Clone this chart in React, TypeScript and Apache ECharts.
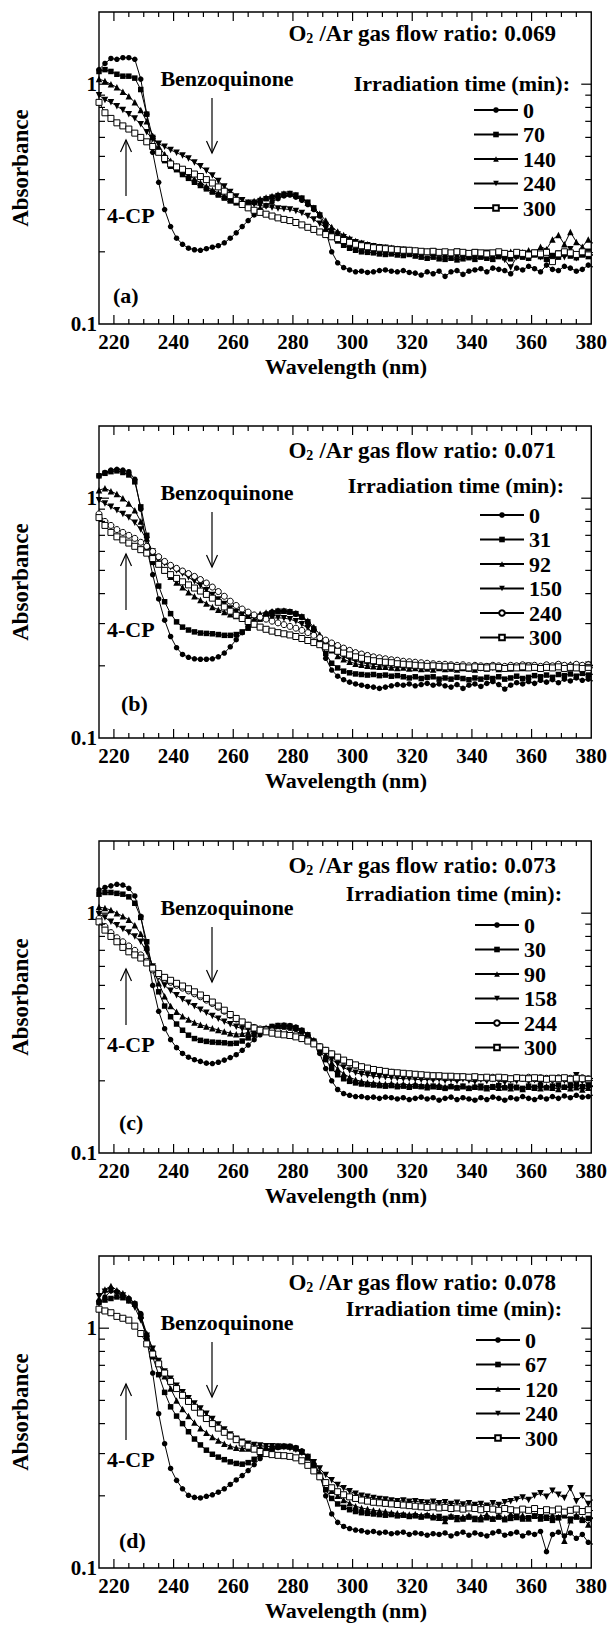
import React, { useEffect, useRef } from "react";
import * as echarts from "echarts";

// ---------- data ----------
const WAVELENGTH = [215,217,219,221,223,225,227,229,231,233,235,237,239,241,243,245,247,249,251,253,255,257,259,261,263,265,267,269,271,273,275,277,279,281,283,285,287,289,291,293,295,297,299,301,303,305,307,309,311,313,315,317,319,321,323,325,327,329,331,333,335,337,339,341,343,345,347,349,351,353,355,357,359,361,363,365,367,369,371,373,375,377,379,381];

const X_TICKS = [220,225,230,235,240,245,250,255,260,265,270,275,280,285,290,295,300,305,310,315,320,325,330,335,340,345,350,355,360,365,370,375];
const X_MAJOR = [220,240,260,280,300,320,340,360,380];
const Y_TICKS = [0.2,0.3,0.4,0.5,0.6,0.7,0.8,0.9,1];
const Y_MAJOR = [1];
const Y_LABELS = ["0.1", "1"];

const PANEL_KEYS = ["a", "b", "c", "d"];
const RATIOS = ["0.069", "0.071", "0.073", "0.078"];
const TIMES_A = ["0", "70", "140", "240", "300"];
const TIMES_B = ["0", "31", "92", "150", "240", "300"];
const TIMES_C = ["0", "30", "90", "158", "244", "300"];
const TIMES_D = ["0", "67", "120", "240", "300"];

// panel (a), O2/Ar 0.069
const A_0 = [1.15,1.22,1.28,1.27,1.29,1.29,1.27,1.05,0.75,0.52,0.39,0.3,0.255,0.228,0.215,0.207,0.204,0.203,0.206,0.209,0.212,0.218,0.228,0.24,0.255,0.27,0.285,0.3,0.312,0.323,0.333,0.342,0.345,0.338,0.328,0.315,0.3,0.282,0.245,0.2,0.18,0.172,0.168,0.165,
  0.166,0.164,0.165,0.167,0.168,0.166,0.165,0.167,0.164,0.163,0.16,0.165,0.162,0.166,0.158,0.165,0.167,0.161,0.166,0.168,0.17,0.165,0.171,0.169,0.167,0.162,0.171,0.168,0.174,0.17,0.165,0.176,0.169,0.167,0.174,0.171,0.166,0.169,0.176,0.172];
const A_70 = [1.13,1.15,1.13,1.1,1.08,1.08,1.06,0.95,0.75,0.6,0.52,0.48,0.455,0.44,0.42,0.405,0.39,0.378,0.366,0.355,0.345,0.335,0.326,0.32,0.317,0.318,0.322,0.327,0.333,0.338,0.343,0.348,0.35,0.345,0.335,0.322,0.305,0.285,0.26,0.238,0.222,0.213,0.207,0.203,
  0.2,0.199,0.198,0.196,0.195,0.196,0.194,0.193,0.195,0.192,0.19,0.188,0.19,0.187,0.186,0.188,0.185,0.187,0.189,0.186,0.19,0.188,0.186,0.191,0.189,0.187,0.192,0.19,0.188,0.194,0.191,0.186,0.193,0.19,0.196,0.192,0.189,0.194,0.191,0.195];
const A_140 = [1.05,1.03,1.0,0.97,0.93,0.89,0.84,0.78,0.7,0.61,0.55,0.51,0.48,0.455,0.435,0.418,0.402,0.388,0.375,0.362,0.352,0.342,0.333,0.326,0.322,0.322,0.326,0.332,0.337,0.342,0.347,0.35,0.35,0.345,0.335,0.32,0.305,0.288,0.27,0.254,0.243,0.235,0.228,0.222,
  0.218,0.215,0.212,0.21,0.209,0.208,0.206,0.205,0.204,0.203,0.2,0.201,0.198,0.199,0.196,0.198,0.195,0.197,0.194,0.196,0.193,0.197,0.194,0.198,0.195,0.2,0.196,0.199,0.203,0.198,0.21,0.205,0.225,0.235,0.215,0.242,0.22,0.21,0.225,0.215];
const A_240 = [0.9,0.86,0.84,0.81,0.78,0.75,0.72,0.68,0.63,0.59,0.565,0.548,0.532,0.518,0.504,0.49,0.472,0.455,0.436,0.416,0.395,0.374,0.355,0.34,0.328,0.32,0.315,0.312,0.309,0.306,0.303,0.302,0.3,0.296,0.29,0.282,0.273,0.262,0.252,0.243,0.236,0.23,0.224,0.219,
  0.216,0.213,0.211,0.209,0.208,0.206,0.205,0.204,0.203,0.201,0.2,0.199,0.201,0.197,0.199,0.196,0.2,0.197,0.195,0.199,0.194,0.198,0.192,0.196,0.185,0.172,0.19,0.196,0.188,0.198,0.19,0.2,0.185,0.197,0.19,0.205,0.188,0.196,0.2,0.192];
const A_300 = [0.84,0.76,0.72,0.69,0.67,0.65,0.625,0.6,0.575,0.55,0.52,0.49,0.465,0.452,0.442,0.432,0.422,0.412,0.4,0.387,0.373,0.358,0.343,0.328,0.315,0.305,0.298,0.292,0.287,0.282,0.277,0.273,0.27,0.265,0.259,0.253,0.248,0.242,0.236,0.231,0.227,0.223,0.219,0.215,
  0.212,0.21,0.208,0.207,0.206,0.205,0.204,0.203,0.203,0.202,0.201,0.2,0.201,0.199,0.2,0.198,0.2,0.199,0.197,0.199,0.198,0.196,0.198,0.2,0.197,0.195,0.199,0.197,0.194,0.198,0.196,0.199,0.182,0.196,0.2,0.198,0.195,0.2,0.197,0.199];

// panel (b), O2/Ar 0.071
const B_0 = [1.24,1.28,1.31,1.32,1.31,1.29,1.2,0.9,0.62,0.48,0.38,0.31,0.265,0.238,0.223,0.217,0.214,0.213,0.213,0.214,0.218,0.226,0.24,0.257,0.275,0.292,0.307,0.32,0.33,0.336,0.338,0.338,0.335,0.328,0.318,0.303,0.283,0.25,0.215,0.192,0.181,0.175,0.171,0.168,
  0.166,0.164,0.163,0.161,0.163,0.165,0.167,0.166,0.168,0.165,0.167,0.169,0.166,0.168,0.165,0.163,0.167,0.161,0.166,0.168,0.164,0.169,0.172,0.167,0.16,0.166,0.17,0.168,0.172,0.169,0.174,0.171,0.175,0.17,0.176,0.173,0.178,0.174,0.176,0.172];
const B_31 = [1.24,1.27,1.29,1.3,1.28,1.25,1.17,0.92,0.7,0.54,0.43,0.37,0.33,0.305,0.29,0.282,0.277,0.274,0.273,0.272,0.27,0.268,0.268,0.27,0.277,0.287,0.3,0.313,0.325,0.333,0.338,0.338,0.336,0.33,0.32,0.305,0.285,0.255,0.225,0.205,0.196,0.19,0.187,0.185,
  0.184,0.183,0.184,0.182,0.183,0.181,0.182,0.18,0.178,0.18,0.177,0.179,0.18,0.176,0.178,0.176,0.179,0.177,0.175,0.178,0.176,0.179,0.177,0.18,0.176,0.178,0.181,0.177,0.179,0.182,0.18,0.183,0.179,0.184,0.182,0.185,0.181,0.186,0.183,0.185];
const B_92 = [1.08,1.1,1.07,1.04,1.0,0.95,0.89,0.8,0.68,0.59,0.54,0.5,0.47,0.445,0.425,0.405,0.39,0.376,0.364,0.352,0.343,0.335,0.328,0.323,0.322,0.323,0.326,0.33,0.334,0.338,0.34,0.34,0.338,0.332,0.322,0.308,0.29,0.27,0.25,0.232,0.22,0.213,0.208,0.204,
  0.202,0.2,0.199,0.198,0.198,0.197,0.196,0.197,0.195,0.196,0.194,0.195,0.193,0.196,0.194,0.195,0.193,0.196,0.195,0.193,0.197,0.195,0.198,0.194,0.197,0.195,0.199,0.196,0.198,0.2,0.196,0.201,0.198,0.2,0.197,0.203,0.199,0.201,0.204,0.2];
const B_150 = [0.98,0.95,0.92,0.89,0.86,0.83,0.79,0.74,0.67,0.6,0.56,0.535,0.515,0.5,0.485,0.468,0.45,0.432,0.413,0.395,0.378,0.362,0.347,0.335,0.326,0.32,0.317,0.315,0.315,0.316,0.317,0.316,0.313,0.307,0.298,0.287,0.273,0.26,0.246,0.234,0.225,0.218,0.213,0.209,
  0.206,0.204,0.203,0.202,0.2,0.201,0.199,0.2,0.198,0.2,0.197,0.199,0.196,0.198,0.197,0.195,0.198,0.196,0.194,0.197,0.195,0.198,0.196,0.194,0.197,0.195,0.199,0.196,0.2,0.197,0.195,0.199,0.197,0.201,0.198,0.196,0.2,0.198,0.202,0.199];
const B_240 = [0.86,0.8,0.77,0.74,0.72,0.7,0.68,0.655,0.63,0.6,0.57,0.545,0.525,0.51,0.497,0.485,0.472,0.458,0.443,0.426,0.408,0.39,0.372,0.357,0.345,0.335,0.326,0.319,0.313,0.307,0.302,0.297,0.292,0.287,0.281,0.275,0.268,0.262,0.256,0.249,0.243,0.237,0.232,0.227,
  0.224,0.221,0.218,0.216,0.214,0.212,0.211,0.209,0.208,0.207,0.206,0.205,0.204,0.203,0.203,0.202,0.201,0.202,0.2,0.201,0.2,0.199,0.201,0.2,0.199,0.201,0.2,0.202,0.2,0.201,0.199,0.202,0.2,0.203,0.201,0.2,0.203,0.201,0.202,0.2];
const B_300 = [0.83,0.77,0.72,0.69,0.67,0.65,0.63,0.61,0.59,0.56,0.53,0.5,0.48,0.463,0.448,0.435,0.422,0.41,0.397,0.383,0.368,0.352,0.338,0.325,0.315,0.306,0.298,0.29,0.284,0.279,0.275,0.272,0.269,0.265,0.26,0.255,0.25,0.245,0.24,0.235,0.23,0.226,0.222,0.218,
  0.215,0.212,0.21,0.208,0.207,0.206,0.204,0.203,0.202,0.201,0.2,0.199,0.2,0.199,0.198,0.199,0.197,0.198,0.196,0.198,0.197,0.196,0.198,0.197,0.195,0.197,0.196,0.198,0.196,0.197,0.195,0.197,0.196,0.198,0.195,0.197,0.196,0.195,0.197,0.196];

// panel (c), O2/Ar 0.073
const C_0 = [1.25,1.28,1.3,1.32,1.31,1.27,1.18,0.97,0.72,0.5,0.39,0.33,0.297,0.275,0.26,0.251,0.245,0.241,0.237,0.236,0.239,0.244,0.25,0.257,0.268,0.282,0.297,0.311,0.323,0.333,0.339,0.341,0.34,0.335,0.325,0.31,0.29,0.26,0.225,0.2,0.184,0.177,0.174,0.172,
  0.172,0.17,0.171,0.169,0.171,0.17,0.168,0.17,0.167,0.169,0.171,0.168,0.17,0.166,0.169,0.171,0.167,0.17,0.168,0.166,0.17,0.167,0.171,0.169,0.166,0.17,0.168,0.172,0.169,0.167,0.171,0.168,0.172,0.169,0.173,0.17,0.174,0.171,0.172,0.175];
const C_30 = [1.2,1.22,1.22,1.21,1.2,1.17,1.1,0.96,0.76,0.58,0.47,0.41,0.37,0.345,0.325,0.31,0.3,0.295,0.292,0.29,0.289,0.288,0.286,0.287,0.293,0.302,0.312,0.322,0.33,0.337,0.34,0.34,0.338,0.333,0.324,0.311,0.293,0.27,0.245,0.225,0.212,0.204,0.199,0.196,
  0.194,0.193,0.192,0.191,0.19,0.191,0.189,0.19,0.188,0.19,0.189,0.187,0.19,0.188,0.186,0.189,0.187,0.19,0.186,0.188,0.19,0.187,0.189,0.191,0.187,0.19,0.188,0.186,0.19,0.188,0.191,0.187,0.19,0.192,0.188,0.191,0.193,0.189,0.192,0.19];
const C_90 = [1.06,1.05,1.03,1.0,0.97,0.94,0.89,0.82,0.72,0.6,0.51,0.45,0.41,0.388,0.372,0.36,0.35,0.343,0.337,0.331,0.326,0.321,0.316,0.313,0.314,0.318,0.323,0.328,0.333,0.337,0.34,0.34,0.338,0.333,0.325,0.312,0.296,0.276,0.256,0.238,0.224,0.214,0.207,0.202,
  0.199,0.197,0.196,0.195,0.194,0.195,0.193,0.194,0.192,0.194,0.191,0.193,0.19,0.192,0.189,0.191,0.188,0.19,0.187,0.19,0.188,0.186,0.189,0.187,0.19,0.186,0.188,0.185,0.189,0.187,0.186,0.19,0.187,0.185,0.189,0.186,0.188,0.184,0.187,0.19];
const C_158 = [0.99,0.96,0.92,0.89,0.86,0.83,0.8,0.76,0.69,0.6,0.54,0.5,0.475,0.455,0.438,0.423,0.409,0.396,0.384,0.373,0.363,0.353,0.344,0.336,0.33,0.327,0.326,0.327,0.328,0.329,0.33,0.33,0.328,0.322,0.313,0.302,0.288,0.272,0.258,0.245,0.235,0.227,0.221,0.216,
  0.213,0.211,0.209,0.208,0.207,0.206,0.205,0.204,0.204,0.203,0.202,0.203,0.201,0.203,0.2,0.202,0.199,0.203,0.2,0.198,0.202,0.199,0.203,0.2,0.197,0.201,0.199,0.204,0.198,0.201,0.196,0.202,0.199,0.205,0.2,0.197,0.211,0.198,0.203,0.2];
const C_244 = [0.95,0.88,0.83,0.79,0.76,0.73,0.7,0.67,0.63,0.58,0.55,0.53,0.515,0.5,0.487,0.474,0.461,0.448,0.434,0.42,0.405,0.39,0.375,0.362,0.35,0.341,0.334,0.329,0.326,0.323,0.321,0.319,0.316,0.311,0.304,0.296,0.287,0.278,0.268,0.259,0.25,0.243,0.237,0.232,
  0.228,0.225,0.222,0.22,0.218,0.217,0.215,0.214,0.213,0.212,0.211,0.21,0.21,0.209,0.208,0.208,0.207,0.208,0.206,0.207,0.206,0.205,0.207,0.205,0.206,0.204,0.206,0.205,0.207,0.204,0.206,0.205,0.203,0.206,0.204,0.205,0.203,0.206,0.204,0.205];
const C_300 = [0.92,0.85,0.8,0.76,0.72,0.69,0.67,0.65,0.62,0.59,0.56,0.54,0.525,0.51,0.497,0.484,0.47,0.456,0.441,0.426,0.41,0.394,0.378,0.364,0.352,0.341,0.332,0.325,0.32,0.316,0.313,0.311,0.309,0.305,0.3,0.293,0.285,0.277,0.268,0.259,0.251,0.244,0.238,0.233,
  0.229,0.226,0.223,0.221,0.219,0.217,0.216,0.215,0.214,0.213,0.212,0.211,0.21,0.21,0.209,0.209,0.208,0.208,0.207,0.208,0.206,0.207,0.205,0.207,0.206,0.204,0.206,0.205,0.204,0.206,0.205,0.203,0.205,0.204,0.206,0.203,0.205,0.204,0.203,0.205];

// panel (d), O2/Ar 0.078
const D_0 = [1.28,1.35,1.43,1.42,1.37,1.33,1.27,1.15,0.9,0.65,0.44,0.33,0.26,0.232,0.214,0.201,0.197,0.196,0.199,0.202,0.207,0.214,0.223,0.233,0.243,0.255,0.27,0.286,0.3,0.311,0.318,0.322,0.322,0.318,0.308,0.292,0.272,0.245,0.2,0.168,0.155,0.149,0.146,0.144,
  0.143,0.141,0.142,0.14,0.141,0.139,0.14,0.141,0.138,0.14,0.139,0.137,0.139,0.138,0.14,0.136,0.139,0.141,0.137,0.14,0.138,0.136,0.14,0.142,0.137,0.139,0.141,0.136,0.14,0.138,0.142,0.117,0.138,0.141,0.136,0.14,0.133,0.138,0.128,0.125];
const D_67 = [1.28,1.31,1.33,1.35,1.34,1.3,1.26,1.12,0.92,0.76,0.64,0.54,0.47,0.43,0.4,0.37,0.345,0.326,0.31,0.298,0.29,0.283,0.277,0.273,0.271,0.275,0.284,0.297,0.308,0.315,0.32,0.322,0.321,0.316,0.305,0.288,0.267,0.24,0.212,0.195,0.185,0.179,0.175,0.172,
  0.17,0.169,0.168,0.167,0.166,0.167,0.165,0.166,0.164,0.165,0.163,0.165,0.162,0.164,0.161,0.163,0.162,0.16,0.163,0.161,0.159,0.162,0.16,0.163,0.159,0.161,0.164,0.16,0.162,0.165,0.16,0.163,0.158,0.162,0.165,0.16,0.163,0.158,0.161,0.162];
const D_120 = [1.33,1.45,1.5,1.44,1.4,1.34,1.27,1.13,0.95,0.82,0.71,0.63,0.56,0.5,0.46,0.43,0.404,0.383,0.366,0.352,0.34,0.33,0.322,0.317,0.315,0.315,0.317,0.319,0.32,0.322,0.323,0.323,0.321,0.316,0.306,0.29,0.272,0.25,0.228,0.21,0.2,0.192,0.186,0.181,
  0.178,0.176,0.174,0.173,0.172,0.17,0.169,0.168,0.167,0.168,0.166,0.167,0.165,0.162,0.157,0.165,0.16,0.163,0.166,0.16,0.164,0.167,0.161,0.165,0.162,0.168,0.163,0.166,0.161,0.165,0.167,0.162,0.166,0.163,0.13,0.158,0.166,0.161,0.152,0.165];
const D_240 = [1.36,1.42,1.43,1.4,1.37,1.3,1.22,1.08,0.93,0.82,0.73,0.66,0.615,0.575,0.54,0.51,0.485,0.462,0.44,0.418,0.397,0.378,0.36,0.346,0.336,0.33,0.326,0.324,0.322,0.322,0.321,0.319,0.316,0.311,0.302,0.29,0.276,0.26,0.244,0.232,0.222,0.215,0.209,0.204,
  0.2,0.198,0.196,0.194,0.193,0.191,0.19,0.191,0.189,0.19,0.188,0.187,0.189,0.186,0.188,0.185,0.187,0.184,0.186,0.183,0.185,0.182,0.186,0.183,0.188,0.19,0.193,0.197,0.192,0.2,0.205,0.198,0.21,0.202,0.196,0.215,0.19,0.2,0.185,0.195];
const D_300 = [1.2,1.18,1.16,1.12,1.1,1.08,1.02,0.95,0.86,0.78,0.71,0.65,0.6,0.56,0.525,0.495,0.468,0.443,0.42,0.4,0.383,0.368,0.355,0.343,0.332,0.322,0.313,0.306,0.3,0.297,0.295,0.294,0.292,0.288,0.28,0.268,0.254,0.24,0.227,0.216,0.208,0.202,0.198,0.195,
  0.192,0.19,0.188,0.187,0.186,0.185,0.184,0.183,0.182,0.181,0.18,0.179,0.18,0.178,0.179,0.177,0.178,0.176,0.178,0.177,0.175,0.177,0.176,0.174,0.177,0.175,0.173,0.176,0.174,0.177,0.172,0.175,0.173,0.176,0.171,0.174,0.176,0.172,0.175,0.173];

const TIMES = [TIMES_A, TIMES_B, TIMES_C, TIMES_D];
const VALUES = [
  [A_0, A_70, A_140, A_240, A_300],
  [B_0, B_31, B_92, B_150, B_240, B_300],
  [C_0, C_30, C_90, C_158, C_244, C_300],
  [D_0, D_67, D_120, D_240, D_300],
];
const MARKERS = [
  ["dot", "square", "tri", "inv", "osq"],
  ["dot", "square", "tri", "inv", "ocirc", "osq"],
  ["dot", "square", "tri", "inv", "ocirc", "osq"],
  ["dot", "square", "tri", "inv", "osq"],
];

// ---------- layout / style ----------
const FONT = '"Liberation Serif", "Times New Roman", Times, serif';
const X_MIN = 215;
const X_MAX = 380;
const Y_MIN = 0.1;
const Y_MAX = 2;
const GRID_TOPS = [12, 426, 841, 1256];
const GRID_LEFT = 99;
const GRID_RIGHT = 18;
const GRID_HEIGHT = 312;
const TITLE_DY = [21, 24, 24, 26];
const IRR_DY = [71, 59, 52, 52];
const IRR_RIGHT = [570, 564, 562, 562];
const LEG_DY = [98, 89, 84, 84];
const LEG_LEFT = [473, 479, 474, 475];
const TAG_DY = [283, 277, 281, 284];
const TAG_X = [113, 121, 119, 119];

const MARKER_STYLE: Record<string, { symbol: string; size: number; fill: string }> = {
  dot: { symbol: "circle", size: 5.5, fill: "#000" },
  square: { symbol: "rect", size: 5.5, fill: "#000" },
  tri: { symbol: "triangle", size: 6.5, fill: "#000" },
  inv: { symbol: "path://M0,0L10,0L5,9Z", size: 6.5, fill: "#000" },
  ocirc: { symbol: "circle", size: 6, fill: "#fff" },
  osq: { symbol: "rect", size: 6, fill: "#fff" },
};

const txt = (size: number) => ({
  fontSize: size,
  fontWeight: "bold",
  fontFamily: FONT,
  fill: "#000",
});

function buildOption() {
  const grids = GRID_TOPS.map((t) => ({
    left: GRID_LEFT,
    right: GRID_RIGHT,
    top: t,
    height: GRID_HEIGHT,
    show: true,
    borderColor: "#000",
    borderWidth: 1.4,
    backgroundColor: "transparent",
  }));

  const xAxes = GRID_TOPS.map((_, i) => ({
    type: "value",
    gridIndex: i,
    min: X_MIN,
    max: X_MAX,
    interval: 5,
    axisLine: { show: false },
    axisTick: { show: false },
    splitLine: { show: false },
    axisLabel: {
      margin: 7,
      formatter: (v: number) => (X_MAJOR.includes(v) ? String(v) : ""),
      fontSize: 21,
      fontWeight: "bold",
      fontFamily: FONT,
      color: "#000",
    },
  }));

  const yAxes = GRID_TOPS.map((_, i) => ({
    type: "log",
    logBase: 10,
    gridIndex: i,
    min: Y_MIN,
    max: Y_MAX,
    axisLine: { show: false },
    axisTick: { show: false },
    splitLine: { show: false },
    axisLabel: {
      margin: 2,
      padding: [6, 0, 0, 0],
      formatter: (v: number) => {
        const s = Math.abs(v - 0.1) < 1e-9 ? "0.1" : Math.abs(v - 1) < 1e-9 ? "1" : "";
        return Y_LABELS.includes(s) ? s : "";
      },
      fontSize: 21,
      fontWeight: "bold",
      fontFamily: FONT,
      color: "#000",
    },
  }));

  const series: any[] = [];
  PANEL_KEYS.forEach((k, i) => {
    TIMES[i].forEach((t, j) => {
      const m = MARKER_STYLE[MARKERS[i][j]];
      const vals = VALUES[i][j];
      series.push({
        type: "line",
        name: `${k}|${t}`,
        xAxisIndex: i,
        yAxisIndex: i,
        data: WAVELENGTH.map((w, n) => [w, vals[n]]),
        symbol: m.symbol,
        symbolSize: m.size,
        showAllSymbol: true,
        clip: true,
        lineStyle: { color: "#000", width: 1 },
        itemStyle: {
          color: m.fill,
          borderColor: "#000",
          borderWidth: m.fill === "#fff" ? 1 : 0,
        },
        emphasis: { disabled: true },
      });
    });
    // y ticks (left & right, inward)
    series.push({
      type: "custom",
      xAxisIndex: i,
      yAxisIndex: i,
      silent: true,
      clip: false,
      z: 5,
      data: Y_TICKS.map((v) => [X_MIN, v]),
      renderItem: (_p: any, api: any) => {
        const v = api.value(1);
        const l = api.coord([X_MIN, v]);
        const r = api.coord([X_MAX, v]);
        const len = Y_MAJOR.includes(v) ? 10 : 6;
        const st = { stroke: "#000", lineWidth: 1.2 };
        return {
          type: "group",
          children: [
            { type: "line", shape: { x1: l[0], y1: l[1], x2: l[0] + len, y2: l[1] }, style: st },
            { type: "line", shape: { x1: r[0], y1: r[1], x2: r[0] - len, y2: r[1] }, style: st },
          ],
        };
      },
    });
    // x ticks (bottom & top, inward)
    series.push({
      type: "custom",
      xAxisIndex: i,
      yAxisIndex: i,
      silent: true,
      clip: false,
      z: 5,
      data: X_TICKS.map((w) => [w, Y_MIN]),
      renderItem: (_p: any, api: any) => {
        const w = api.value(0);
        const b = api.coord([w, Y_MIN]);
        const tp = api.coord([w, Y_MAX]);
        const len = X_MAJOR.includes(w) ? 9 : 5;
        const st = { stroke: "#000", lineWidth: 1.2 };
        return {
          type: "group",
          children: [
            { type: "line", shape: { x1: b[0], y1: b[1], x2: b[0], y2: b[1] - len }, style: st },
            { type: "line", shape: { x1: tp[0], y1: tp[1], x2: tp[0], y2: tp[1] + len }, style: st },
          ],
        };
      },
    });
  });

  const legends = PANEL_KEYS.map((k, i) => ({
    orient: "vertical",
    left: LEG_LEFT[i],
    top: GRID_TOPS[i] + LEG_DY[i] - 12.25,
    padding: 0,
    itemWidth: 44,
    itemHeight: 7,
    itemGap: 0,
    selectedMode: false,
    data: TIMES[i].map((t) => `${k}|${t}`),
    formatter: (name: string) => name.split("|")[1],
    textStyle: {
      fontSize: 22,
      fontWeight: "bold",
      fontFamily: FONT,
      color: "#000",
      lineHeight: 24.5,
    },
  }));

  const graphics: any[] = [];
  PANEL_KEYS.forEach((k, i) => {
    const top = GRID_TOPS[i];
    const line = { stroke: "#000", lineWidth: 1.2 };
    graphics.push(
      {
        type: "text",
        x: 556,
        y: top + TITLE_DY[i],
        style: {
          text: `{n|O}{s|2}{n| /Ar gas flow ratio: ${RATIOS[i]}}`,
          align: "right",
          verticalAlign: "middle",
          rich: {
            n: { ...txt(23), lineHeight: 24 },
            s: { ...txt(14), lineHeight: 14, verticalAlign: "bottom" },
          },
        },
      },
      {
        type: "text",
        x: IRR_RIGHT[i],
        y: top + IRR_DY[i],
        style: { text: "Irradiation time (min):", align: "right", verticalAlign: "middle", ...txt(22) },
      },
      {
        type: "text",
        x: 227,
        y: top + 66,
        style: { text: "Benzoquinone", align: "center", verticalAlign: "middle", ...txt(22) },
      },
      { type: "line", shape: { x1: 212, y1: top + 86, x2: 212, y2: top + 141 }, style: line },
      {
        type: "polyline",
        shape: { points: [[206.5, top + 129], [212, top + 141], [217.5, top + 129]] },
        style: line,
      },
      { type: "line", shape: { x1: 126, y1: top + 128, x2: 126, y2: top + 184 }, style: line },
      {
        type: "polyline",
        shape: { points: [[120.5, top + 140], [126, top + 128], [131.5, top + 140]] },
        style: line,
      },
      {
        type: "text",
        x: 107,
        y: top + 203,
        style: { text: "4-CP", align: "left", verticalAlign: "middle", ...txt(22) },
      },
      {
        type: "text",
        x: TAG_X[i],
        y: top + TAG_DY[i],
        style: { text: `(${k})`, align: "left", verticalAlign: "middle", ...txt(22) },
      },
      {
        type: "text",
        x: 20,
        y: top + 156,
        rotation: Math.PI / 2,
        style: { text: "Absorbance", align: "center", verticalAlign: "middle", ...txt(23) },
      },
      {
        type: "text",
        x: 346,
        y: top + GRID_HEIGHT + 42,
        style: { text: "Wavelength (nm)", align: "center", verticalAlign: "middle", ...txt(22) },
      }
    );
  });

  return {
    animation: false,
    backgroundColor: "#fff",
    grid: grids,
    xAxis: xAxes,
    yAxis: yAxes,
    legend: legends,
    graphic: graphics,
    series,
  };
}

export default function App() {
  const ref = useRef<HTMLDivElement>(null);
  useEffect(() => {
    document.body.style.margin = "0";
    if (!ref.current) return;
    const chart = echarts.init(ref.current, undefined, { renderer: "svg" });
    chart.setOption(buildOption() as any);
    return () => chart.dispose();
  }, []);
  return (
    <div
      ref={ref}
      style={{ position: "absolute", left: 0, top: 0, width: 610, height: 1625, background: "#fff" }}
    />
  );
}
